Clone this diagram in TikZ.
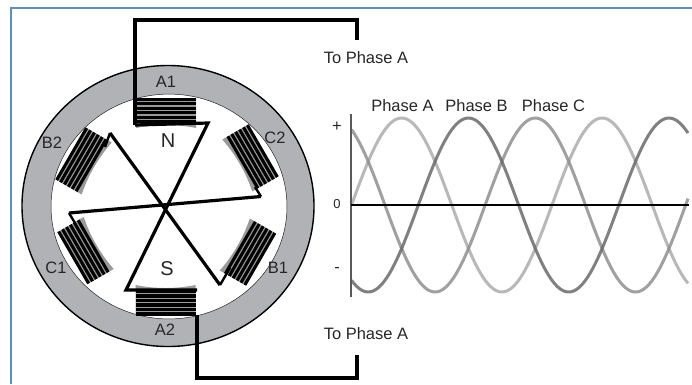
\documentclass[tikz,border=0pt]{standalone}
\usepackage{fontspec}
\setmainfont{Liberation Sans}
\usepackage{xcolor}
\usepackage{tikz}
\usetikzlibrary{positioning, calc}
\definecolor{ring}{HTML}{B0B2B5}
\definecolor{ink}{HTML}{262628}
\definecolor{frame}{HTML}{5B8DC9}
\definecolor{shoe}{HTML}{9A9A9C}
\definecolor{phaseA}{HTML}{ABABAB}
\definecolor{phaseB}{HTML}{6A6A6A}
\definecolor{phaseC}{HTML}{8F8F8F}

\begin{document}
\begin{tikzpicture}[
  x=1pt, y=-1pt,
  every node/.style={font=\fontsize{16.5}{18}\selectfont, text=ink, inner sep=0pt},
  pole/.style={font=\fontsize{20}{22}\selectfont},
  wire/.style={line width=3.2pt, black, line join=miter},
  lead/.style={line width=2.4pt, black},
  wave/.style={line width=3pt, opacity=0.85, smooth}
]
  \useasboundingbox (0,0) rectangle (692,384);
  \draw[frame, line width=2.6pt] (692,8) -- (11,8) -- (11,384);

  \path[fill=ring, even odd rule] (168,206) ellipse [x radius=146, y radius=140.5]
    (169,206.5) ellipse [x radius=118, y radius=112.4];
  \draw[black, line width=1.4pt] (168,206) ellipse [x radius=146, y radius=140.5];
  \draw[ink, line width=0.5pt] (169,206.5) ellipse [x radius=118, y radius=112.4];

  \foreach \cx/\cy/\rot in {166/111/0, 252/157/-60, 249.5/253/-120, 165.5/302/180, 84/251.5/120, 82/160/60}{
    \begin{scope}[shift={(\cx,\cy)}, rotate=\rot]
      \fill[shoe] (-30,-13) -- (30,-13) -- (30,17) .. controls (10,13) and (-10,13) .. (-30,17) -- cycle;
      \foreach \k in {0,...,5}
        \fill[black] (-30,-13.5+4.5*\k) rectangle (30,-10.4+4.5*\k);
    \end{scope}
  }

  \coordinate (hub) at (165.5,206.5);
  \coordinate (topA) at (135,125);
  \coordinate (tipN) at (208,123);
  \coordinate (tipS) at (126,290);
  \coordinate (endS) at (197,290);
  \coordinate (botA) at (197,315);
  \coordinate (tipB2) at (110,133);
  \coordinate (tipB1) at (220,285);
  \coordinate (tipC2) at (261,196.5);
  \coordinate (tipC1) at (69,213);
  \coordinate (coilB2) at (105,147);
  \coordinate (coilB1) at (230,268);
  \coordinate (coilC2) at (255,187);
  \coordinate (coilC1) at (75,223);
  \coordinate (inTop) at (357,40);
  \coordinate (inBot) at (357,355);

  \node (toTop) at (366,58) {To Phase A};
  \node (toBot) at (366,334) {To Phase A};
  \draw[wire] (topA) -- (135,20) -| (inTop);
  \draw[wire] (topA) -- (tipN) -- (tipS) -- (endS);
  \draw[wire] (botA) -- (197,378) -| (inBot);
  \draw[wire] (tipB2) -- (tipB1);
  \draw[wire] (tipC2) -- (tipC1);
  \draw[lead] (coilB2) -- (tipB2);
  \draw[lead] (coilB1) -- (tipB1);
  \draw[lead] (coilC2) -- (tipC2);
  \draw[lead] (coilC1) -- (tipC1);

  \node (A1) at (166,82) {A1};
  \node (A2) at (165,330) {A2};
  \node (B2) at (52,143) {B2};
  \node (C2) at (275,138) {C2};
  \node (C1) at (56,268) {C1};
  \node (B1) at (278,268) {B1};
  \node[pole] (N) at (168,141) {N};
  \node[pole] (S) at (167,269) {S};

  \draw[phaseA, wave] plot[domain=351.5:688, samples=130] (\x,{205-87*sin((\x-351.5)/200.5*360)});
  \draw[phaseC, wave] plot[domain=351.5:688, samples=130] (\x,{205-87*sin((\x-351.5)/200.5*360+120)});
  \draw[phaseB, wave] plot[domain=351.5:688, samples=130] (\x,{205-87*sin((\x-351.5)/200.5*360-120)});

  \coordinate (axisTop) at (351,114);
  \coordinate (axisBot) at (351,297);
  \coordinate (zeroL) at (351,205);
  \coordinate (zeroR) at (689,205);
  \draw[black!65, line width=1.5pt] (axisTop) -- (axisBot);
  \draw[black, line width=1.1pt] (zeroL) -- (zeroR);

  \node (plus) at (337,127) {+};
  \node (zero) at (337,204) {\fontsize{13}{14}\selectfont 0};
  \node (minus) at (337,270) {-};
  \node (labelA) at (402.5,105.5) {Phase A};
  \node (labelB) at (476.5,105.5) {Phase B};
  \node (labelC) at (553.5,105.5) {Phase C};
\end{tikzpicture}
\end{document}
